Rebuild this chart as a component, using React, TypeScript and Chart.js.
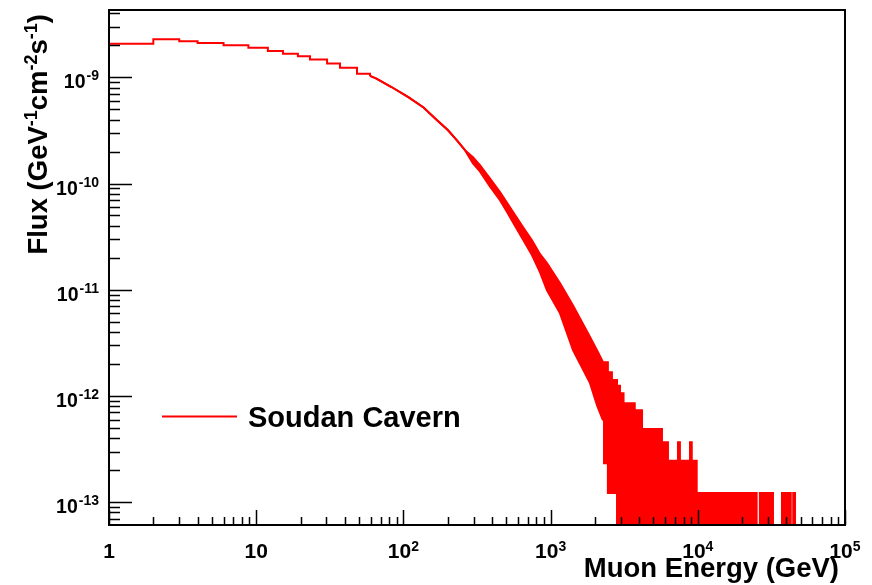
import { useEffect, useRef } from 'react';
import { Chart, registerables } from 'chart.js';

Chart.register(...registerables);

// ---- data ----
const NO_ENTRIES = 1e-16; // empty bins (below the visible range on the log axis)

// low-energy bins (bin start energy, flux held until next edge)
const lowBinEdgesGeV = [1, 2, 3, 4, 6, 8.85, 12, 15.2, 19.2, 23.2, 30.3, 37.1, 48.4, 59.3];
const lowBinFlux = [
  2.07e-9, 2.28e-9, 2.18e-9, 2.1e-9, 2.0e-9, 1.9e-9, 1.77e-9, 1.67e-9, 1.58e-9, 1.47e-9, 1.35e-9, 1.23e-9, 1.08e-9,
  1.03e-9,
];

// falling part: upper and lower edge of the (fluctuating) histogram
const midEnergyGeV = [
  59.3, 65.6, 83, 108, 137, 166.5, 201, 231, 262, 297, 331, 387, 453, 506, 556, 649, 747, 848, 945, 1159, 1420, 1853,
  2066, 2270,
];
const midFluxUpper = [
  1.03e-9, 9.7e-10, 8.1e-10, 6.5e-10, 5.2e-10, 4.03e-10, 3.17e-10, 2.55e-10, 2.06e-10, 1.77e-10, 1.49e-10, 1.12e-10,
  8.3e-11, 6.6e-11, 5.38e-11, 3.89e-11, 2.92e-11, 2.16e-11, 1.78e-11, 1.15e-11, 7.1e-12, 3.6e-12, 2.7e-12, 2.08e-12,
];
const midFluxLower = [
  1.03e-9, 9.7e-10, 8.1e-10, 6.5e-10, 5.2e-10, 4.03e-10, 3.17e-10, 2.55e-10, 2.06e-10, 1.55e-10, 1.3e-10, 9.4e-11,
  6.96e-11, 5.4e-11, 4.3e-11, 2.97e-11, 2.12e-11, 1.46e-11, 9.9e-12, 6.0e-12, 2.7e-12, 1.32e-12, 8.2e-13, 5.9e-13,
];

// low-statistics tail (bin start energy; a count of one is ~1.22e-13)
const tailBinEdgesGeV = [
  2270, 2450, 2610, 2826, 2960, 3130, 3730, 4180, 4700, 4780, 5118, 5200, 5709, 6270, 7334, 7560, 8185, 8400, 8850,
  9100, 9830, 25100, 26400, 32410, 37330, 42800, 44500, 45750, 100000,
];
const tailFluxUpper = [
  2.08e-12, 1.67e-12, 1.41e-12, 1.25e-12, 1.06e-12, 8.55e-13, 7.34e-13, 4.88e-13, 3.67e-13, 4.88e-13, 3.67e-13,
  4.88e-13, 3.67e-13, 2.45e-13, 3.67e-13, 2.45e-13, 1.22e-13, 2.45e-13, 3.67e-13, 2.45e-13, 1.22e-13, NO_ENTRIES,
  1.22e-13, NO_ENTRIES, 1.22e-13, NO_ENTRIES, 1.22e-13, NO_ENTRIES, NO_ENTRIES,
];
const tailFluxLower = [
  2.33e-13, 1.22e-13, 1.22e-13, NO_ENTRIES, NO_ENTRIES, NO_ENTRIES, NO_ENTRIES, NO_ENTRIES, NO_ENTRIES, NO_ENTRIES,
  NO_ENTRIES, NO_ENTRIES, NO_ENTRIES, NO_ENTRIES, NO_ENTRIES, NO_ENTRIES, NO_ENTRIES, NO_ENTRIES, NO_ENTRIES,
  NO_ENTRIES, NO_ENTRIES, NO_ENTRIES, NO_ENTRIES, NO_ENTRIES, NO_ENTRIES, NO_ENTRIES, NO_ENTRIES, NO_ENTRIES,
  NO_ENTRIES,
];

const xRange = [1, 1e5];
const yRange = [6.1e-14, 4.3e-9];
const xTickValues = [1, 10, 100, 1000, 10000, 100000];
const xTickLabels = ['1', '10', '10^{2}', '10^{3}', '10^{4}', '10^{5}'];
const yTickValues = [1e-13, 1e-12, 1e-11, 1e-10, 1e-9];
const yTickLabels = ['10^{-13}', '10^{-12}', '10^{-11}', '10^{-10}', '10^{-9}'];
const xTitle = 'Muon Energy (GeV)';
const yTitle = 'Flux (GeV^{-1}cm^{-2}s^{-1})';
const seriesName = 'Soudan Cavern';
const lineColor = '#ff0000';

// ---- drawing helpers ----
const FONT = '"Liberation Sans", Arial, Helvetica, sans-serif';

type Seg = { t: string; sup: boolean };
function parseRich(s: string): Seg[] {
  const out: Seg[] = [];
  const re = /\^\{([^}]*)\}/g;
  let last = 0;
  let m: RegExpExecArray | null;
  while ((m = re.exec(s))) {
    if (m.index > last) out.push({ t: s.slice(last, m.index), sup: false });
    out.push({ t: m[1], sup: true });
    last = m.index + m[0].length;
  }
  if (last < s.length) out.push({ t: s.slice(last), sup: false });
  return out;
}

function drawRich(
  ctx: CanvasRenderingContext2D,
  s: string,
  x: number,
  y: number,
  size: number,
  supSize: number,
  rise: number,
  align: 'left' | 'center' | 'right',
  supGap = 0
) {
  const segs = parseRich(s);
  const widths = segs.map((g) => {
    ctx.font = `bold ${g.sup ? supSize : size}px ${FONT}`;
    return ctx.measureText(g.t).width + (g.sup ? supGap : 0);
  });
  const total = widths.reduce((a, b) => a + b, 0);
  let cx = align === 'left' ? x : align === 'center' ? x - total / 2 : x - total;
  ctx.textAlign = 'left';
  ctx.textBaseline = 'alphabetic';
  segs.forEach((g, i) => {
    ctx.font = `bold ${g.sup ? supSize : size}px ${FONT}`;
    ctx.fillText(g.t, g.sup ? cx + supGap : cx, g.sup ? y - rise : y);
    cx += widths[i];
  });
}

const rootStyle = {
  id: 'rootStyle',
  afterDatasetsDraw(chart: any) {
    const { ctx, chartArea: a, scales } = chart;
    const xs = scales.x;
    const ys = scales.y;
    ctx.save();
    ctx.fillStyle = '#000';
    ctx.strokeStyle = '#000';

    // frame
    ctx.lineWidth = 2;
    ctx.strokeRect(a.left, a.top, a.right - a.left, a.bottom - a.top);

    // inward ticks
    ctx.lineWidth = 1.5;
    ctx.beginPath();
    const dx0 = Math.floor(Math.log10(xs.min));
    const dx1 = Math.ceil(Math.log10(xs.max));
    for (let d = dx0; d <= dx1; d++) {
      for (let m = 1; m <= 9; m++) {
        const v = m * Math.pow(10, d);
        if (v < xs.min * 0.999 || v > xs.max * 1.001) continue;
        const px = Math.round(xs.getPixelForValue(v)) + 0.5;
        const len = m === 1 ? 15 : 8;
        ctx.moveTo(px, a.bottom);
        ctx.lineTo(px, a.bottom - len);
      }
    }
    const dy0 = Math.floor(Math.log10(ys.min));
    const dy1 = Math.ceil(Math.log10(ys.max));
    for (let d = dy0; d <= dy1; d++) {
      for (let m = 1; m <= 9; m++) {
        const v = m * Math.pow(10, d);
        if (v < ys.min || v > ys.max) continue;
        const py = Math.round(ys.getPixelForValue(v)) + 0.5;
        const len = m === 1 ? 23 : 11;
        ctx.moveTo(a.left, py);
        ctx.lineTo(a.left + len, py);
      }
    }
    ctx.stroke();

    // tick labels
    xTickValues.forEach((v, i) => {
      const px = xs.getPixelForValue(v);
      drawRich(ctx, xTickLabels[i], px, a.bottom + 33, 21, 14, 7, 'center');
    });
    yTickValues.forEach((v, i) => {
      const py = ys.getPixelForValue(v);
      drawRich(ctx, yTickLabels[i], a.left - 10, py + 11, 19.5, 14, 8, 'right', 1);
    });

    // axis titles
    drawRich(ctx, xTitle, a.right - 6, a.bottom + 52, 27.5, 18, 10, 'right');
    ctx.save();
    ctx.translate(a.left - 62, a.top + 4);
    ctx.rotate(-Math.PI / 2);
    drawRich(ctx, yTitle, 0, 0, 27.5, 18, 10, 'right');
    ctx.restore();

    // legend
    ctx.strokeStyle = lineColor;
    ctx.lineWidth = 2;
    ctx.beginPath();
    ctx.moveTo(162, 416.5);
    ctx.lineTo(237, 416.5);
    ctx.stroke();
    ctx.fillStyle = '#000';
    drawRich(ctx, seriesName, 248, 427, 29, 18, 10, 'left');

    ctx.restore();
  },
};

export default function App() {
  const ref = useRef<HTMLCanvasElement | null>(null);

  useEffect(() => {
    if (!ref.current) return;
    const pts = (xs: number[], ys: number[]) => xs.map((x, i) => ({ x, y: ys[i] }));
    const base = { borderColor: lineColor, backgroundColor: lineColor, borderWidth: 2, pointRadius: 0 };
    const chart = new Chart(ref.current, {
      type: 'line',
      data: {
        datasets: [
          { ...base, label: seriesName, data: pts(lowBinEdgesGeV, lowBinFlux), stepped: 'before', fill: false },
          { ...base, label: 'upper', data: pts(midEnergyGeV, midFluxUpper), fill: false, tension: 0 },
          { ...base, label: 'lower', data: pts(midEnergyGeV, midFluxLower), fill: '-1', tension: 0 },
          { ...base, label: 'tail upper', data: pts(tailBinEdgesGeV, tailFluxUpper), stepped: 'before', fill: false },
          { ...base, label: 'tail lower', data: pts(tailBinEdgesGeV, tailFluxLower), stepped: 'before', fill: '-1' },
        ],
      },
      options: {
        animation: false,
        responsive: false,
        maintainAspectRatio: false,
        events: [],
        layout: { padding: { top: 10, right: 27, left: 0, bottom: 0 } },
        plugins: { legend: { display: false }, tooltip: { enabled: false } },
        scales: {
          x: {
            type: 'logarithmic',
            min: xRange[0],
            max: xRange[1],
            grid: { display: false },
            border: { display: false },
            ticks: { display: false },
            afterFit: (s: any) => {
              s.height = 60;
            },
          },
          y: {
            type: 'logarithmic',
            min: yRange[0],
            max: yRange[1],
            grid: { display: false },
            border: { display: false },
            ticks: { display: false },
            afterFit: (s: any) => {
              s.width = 109;
            },
          },
        },
      },
      plugins: [rootStyle],
    } as any);
    return () => chart.destroy();
  }, []);

  return (
    <div style={{ position: 'fixed', left: 0, top: 0, width: 872, height: 585, background: '#fff' }}>
      <canvas ref={ref} width={872} height={585} style={{ display: 'block' }} />
    </div>
  );
}
